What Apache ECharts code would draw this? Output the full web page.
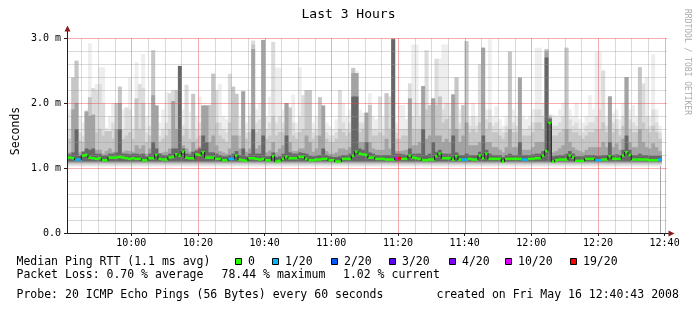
<!DOCTYPE html>
<html><head><meta charset="utf-8">
<script src="https://cdn.jsdelivr.net/npm/echarts@6/dist/echarts.min.js"></script>
<style>html,body{margin:0;padding:0;background:#fff}#c{width:697px;height:313px}</style>
</head><body><div id="c"></div>
<script>
// ---- data ----
const START_MIN = 580;            // first sample spans 09:40-09:41 (minutes since midnight)
const AXIS_MIN = 580.7167;        // 09:40:43
const AXIS_MAX = 760.7167;        // 12:40:43
const tickMinutes = [600, 620, 640, 660, 680, 700, 720, 740, 760];
const tickLabels = ['10:00', '10:20', '10:40', '11:00', '11:20', '11:40', '12:00', '12:20', '12:40'];

const median = [
1.15,1.16,1.15,1.13,1.13,1.19,1.20,1.16,1.15,1.14,
1.15,1.12,1.12,1.16,1.16,1.16,1.17,1.16,1.15,1.14,
1.15,1.14,1.14,1.12,1.12,1.15,1.15,1.20,1.14,1.13,
1.13,1.16,1.17,1.21,1.19,1.25,1.16,1.15,1.15,1.21,
1.20,1.24,1.16,1.16,1.16,1.14,1.14,1.12,1.12,1.14,
1.14,1.19,1.13,1.12,1.11,1.15,1.15,1.14,1.13,1.14,
1.12,1.12,1.18,1.10,1.11,1.14,1.17,1.15,1.15,1.15,
1.17,1.17,1.14,1.12,1.12,1.13,1.13,1.14,1.14,1.12,
1.12,1.10,1.10,1.14,1.14,1.14,1.19,1.25,1.22,1.21,
1.20,1.16,1.16,1.14,1.14,1.14,1.13,1.13,1.13,1.15,
1.15,1.14,1.14,1.19,1.16,1.15,1.14,1.12,1.12,1.13,
1.13,1.18,1.22,1.15,1.15,1.15,1.13,1.18,1.13,1.13,
1.13,1.14,1.13,1.13,1.19,1.15,1.22,1.14,1.14,1.14,
1.14,1.10,1.14,1.14,1.14,1.14,1.14,1.13,1.13,1.14,
1.14,1.15,1.15,1.19,1.26,1.69,1.10,1.12,1.13,1.13,
1.13,1.19,1.16,1.11,1.11,1.11,1.14,1.14,1.14,1.12,
1.12,1.13,1.13,1.18,1.14,1.14,1.14,1.19,1.24,1.20,
1.13,1.13,1.13,1.13,1.13,1.12,1.12,1.12,1.13];

// loss class per sample (index into lossLabels)
const loss = [
0,0,0,1,1,0,0,0,0,0, 0,0,0,0,0,0,0,0,0,0, 0,0,0,0,0,0,0,0,0,0,
0,0,0,0,0,0,0,0,0,0, 0,0,0,0,0,0,0,0,0,1, 1,0,0,0,0,0,0,0,0,0,
0,0,0,0,0,0,0,0,0,0, 0,0,0,0,0,0,0,0,0,0, 0,0,0,0,0,0,0,0,0,0,
0,0,0,0,0,0,0,0,0,5, 6,0,0,0,0,0,0,0,0,0, 0,0,0,0,0,0,0,0,0,1,
1,0,0,0,0,0,0,0,0,0, 0,0,0,0,0,0,0,1,1,0, 0,0,0,0,0,0,0,0,0,0,
0,0,0,0,0,0,0,0,0,1, 1,0,0,0,0,0,0,0,0,0, 0,0,0,0,0,0,0,0,1];

// smoke band tops (ms), lightest band to darkest band
const smoke1 = [
1.62,1.90,2.39,2.65,1.80,1.70,1.90,2.92,2.23,2.29,
2.55,2.55,1.62,1.80,2.00,2.00,2.25,1.90,1.93,2.39,
1.80,2.63,2.29,2.75,1.80,2.00,2.81,1.96,1.70,1.90,
2.17,2.15,2.20,2.20,2.57,1.90,2.28,1.87,2.14,1.80,
2.10,1.96,1.97,1.97,2.45,2.20,2.29,1.80,1.75,2.45,
2.25,2.14,1.80,2.18,1.70,2.00,2.96,1.90,2.00,2.97,
1.80,2.10,2.94,2.55,2.54,1.90,2.00,1.93,2.13,1.70,
2.55,2.12,2.20,2.20,1.70,1.80,2.09,1.96,1.70,1.65,
1.60,1.75,2.20,2.00,1.80,1.90,2.54,2.50,1.90,1.85,
1.85,2.15,1.80,1.75,2.10,1.80,2.15,2.10,2.99,1.70,
1.97,1.97,1.75,2.30,2.90,2.90,2.00,2.26,2.81,1.97,
2.07,2.68,2.68,2.90,2.90,2.00,2.13,2.40,1.90,1.97,
2.95,1.80,2.00,1.80,2.60,2.85,1.90,2.98,1.80,1.95,
1.75,1.65,1.80,2.79,1.90,1.80,2.39,1.80,1.75,1.80,
1.90,2.85,2.85,2.00,2.83,1.82,1.82,1.80,1.90,2.00,
2.85,1.90,1.80,2.00,1.75,1.70,1.80,2.12,1.90,2.79,
2.79,2.50,1.80,2.10,1.85,1.90,1.75,2.00,2.40,1.90,
1.97,1.80,2.55,2.30,2.40,1.80,2.75,1.90,1.65];
const smoke2 = [
1.50,1.60,2.39,2.65,1.55,1.50,1.87,2.09,2.23,2.20,
2.29,2.00,1.57,1.57,1.70,2.00,2.25,1.60,1.93,1.90,
1.60,2.07,2.29,2.23,1.55,1.65,2.81,1.96,1.50,1.60,
1.70,2.15,2.20,2.20,2.57,1.65,2.28,1.60,2.14,1.60,
1.70,1.96,1.97,1.97,2.45,2.20,1.70,1.60,1.55,2.45,
2.25,2.14,1.60,2.18,1.55,1.80,2.96,1.70,1.75,2.97,
1.60,1.70,2.94,1.70,1.80,1.70,2.00,1.93,1.70,1.55,
1.80,2.12,2.20,2.20,1.55,1.60,2.09,1.96,1.55,1.50,
1.50,1.55,2.20,1.70,1.60,1.70,2.54,2.46,1.70,1.70,
1.85,1.97,1.60,1.60,2.10,1.60,2.15,2.10,2.99,1.55,
1.60,1.60,1.60,2.30,1.80,2.00,1.80,2.26,2.81,1.97,
2.07,2.68,2.10,1.90,2.00,1.80,2.13,2.40,1.70,1.97,
2.95,1.65,1.80,1.65,2.60,2.85,1.75,1.90,1.65,1.70,
1.60,1.55,1.65,2.79,1.70,1.65,2.39,1.60,1.60,1.65,
1.70,1.90,1.90,1.80,2.83,1.82,1.65,1.65,1.70,1.80,
2.85,1.75,1.65,1.70,1.60,1.55,1.65,1.70,1.70,1.80,
1.90,2.50,1.65,2.10,1.70,1.75,1.60,1.80,2.40,1.75,
1.70,1.65,2.55,2.30,1.80,1.65,1.90,1.70,1.55];
const smoke3 = [
1.38,1.45,2.39,2.65,1.42,1.40,1.87,2.09,1.82,1.55,
1.60,1.50,1.57,1.57,1.45,2.00,2.25,1.45,1.50,1.55,
1.45,2.07,1.60,2.00,1.40,1.50,2.81,1.96,1.40,1.45,
1.50,1.60,2.03,2.20,2.57,1.50,1.60,1.45,2.14,1.45,
1.50,1.96,1.96,1.97,2.45,1.70,1.50,1.45,1.40,1.70,
2.25,2.14,1.50,2.18,1.45,1.55,2.90,1.55,1.60,2.97,
1.45,1.50,1.80,1.50,1.55,1.55,2.00,1.93,1.50,1.45,
1.55,1.60,2.20,2.20,1.45,1.50,2.09,1.96,1.45,1.40,
1.40,1.45,1.60,1.55,1.50,1.55,2.54,2.46,1.55,1.60,
1.85,1.97,1.50,1.50,1.55,1.50,2.15,1.60,2.99,1.45,
1.45,1.50,1.50,2.07,1.60,1.60,1.60,2.26,1.90,1.97,
2.07,1.97,2.10,1.70,1.75,1.60,2.13,2.39,1.60,1.97,
2.95,1.55,1.60,1.55,1.70,2.85,1.60,1.70,1.55,1.55,
1.50,1.45,1.55,2.79,1.55,1.55,2.39,1.50,1.50,1.50,
1.55,1.70,1.70,1.60,2.83,1.80,1.50,1.50,1.55,1.60,
2.85,1.60,1.55,1.55,1.50,1.45,1.50,1.55,1.55,1.60,
1.60,1.70,1.55,2.10,1.55,1.60,1.50,1.65,2.40,1.60,
1.55,1.55,2.55,1.70,1.60,1.55,1.65,1.55,1.45];
const smoke4 = [
1.22,1.24,1.90,2.00,1.24,1.26,1.87,1.80,1.82,1.28,
1.28,1.22,1.26,1.30,1.25,1.60,2.00,1.25,1.27,1.26,
1.25,1.35,1.30,1.35,1.22,1.30,2.12,1.96,1.23,1.24,
1.25,1.30,2.03,1.60,2.57,1.35,1.30,1.25,1.40,1.30,
1.33,1.96,1.96,1.40,1.50,1.35,1.26,1.24,1.22,1.30,
1.50,1.50,1.30,2.18,1.25,1.30,2.83,1.30,1.35,2.97,
1.24,1.27,1.40,1.24,1.30,1.35,2.00,1.40,1.26,1.26,
1.30,1.30,1.50,1.40,1.25,1.30,1.50,1.96,1.26,1.22,
1.22,1.24,1.30,1.30,1.28,1.32,2.46,2.46,1.40,1.40,
1.85,1.40,1.30,1.28,1.28,1.28,1.45,1.30,2.99,1.26,
1.26,1.27,1.28,2.07,1.35,1.35,1.40,2.26,1.45,1.50,
2.07,1.50,1.50,1.40,1.45,1.40,2.13,1.60,1.40,1.50,
1.70,1.35,1.35,1.35,1.40,2.85,1.40,1.40,1.32,1.32,
1.28,1.24,1.32,1.60,1.32,1.32,2.39,1.28,1.28,1.28,
1.32,1.40,1.40,1.40,2.80,1.78,1.24,1.26,1.30,1.35,
1.60,1.40,1.32,1.28,1.26,1.24,1.28,1.32,1.32,1.32,
1.32,1.40,1.32,2.10,1.32,1.38,1.28,1.45,2.40,1.40,
1.32,1.32,1.60,1.40,1.32,1.30,1.38,1.32,1.26];
const smoke5 = [
1.20,1.21,1.24,1.60,1.19,1.25,1.30,1.28,1.30,1.22,
1.22,1.19,1.20,1.22,1.22,1.24,1.60,1.22,1.22,1.21,
1.22,1.22,1.21,1.22,1.18,1.22,1.40,1.30,1.22,1.20,
1.20,1.22,1.30,1.30,2.57,1.30,1.22,1.21,1.25,1.27,
1.30,1.50,1.40,1.24,1.24,1.22,1.20,1.18,1.18,1.20,
1.22,1.26,1.20,1.30,1.18,1.22,1.60,1.22,1.22,1.50,
1.18,1.18,1.24,1.17,1.18,1.22,1.50,1.24,1.22,1.22,
1.24,1.23,1.22,1.19,1.18,1.19,1.20,1.30,1.20,1.18,
1.17,1.17,1.18,1.20,1.20,1.22,2.10,2.10,1.30,1.28,
1.40,1.24,1.22,1.20,1.20,1.20,1.20,1.20,2.98,1.22,
1.22,1.21,1.20,1.30,1.22,1.22,1.22,1.60,1.20,1.22,
1.40,1.25,1.28,1.22,1.22,1.22,1.50,1.24,1.20,1.20,
1.22,1.20,1.20,1.20,1.25,1.50,1.28,1.22,1.20,1.20,
1.20,1.17,1.20,1.22,1.20,1.20,1.40,1.20,1.20,1.20,
1.21,1.22,1.22,1.26,2.70,1.76,1.18,1.19,1.20,1.20,
1.22,1.26,1.22,1.18,1.18,1.18,1.20,1.20,1.20,1.19,
1.19,1.20,1.20,1.40,1.20,1.21,1.20,1.28,1.50,1.28,
1.20,1.20,1.22,1.20,1.20,1.19,1.19,1.19,1.19];
const smokeLow = [1.02, 1.04, 1.06, 1.08, 1.10];   // lower edge of each band

const lossLabels = ['0', '1/20', '2/20', '3/20', '4/20', '10/20', '19/20'];
const lossColors = ['#26ff00', '#00b8ff', '#0059ff', '#5e00ff', '#7e00ff', '#dd00ff', '#ff0000'];

// ---- styles ----
const MONO = 'DejaVu Sans Mono';
const smokeTops = [smoke1, smoke2, smoke3, smoke4, smoke5];
const smokeColors = ['#eeeeee', '#dcdcdc', '#c6c6c6', '#a3a3a3', '#676767'];

function smokeSeries(k) {
  return {
    type: 'custom', silent: true, clip: true, z: 2 + k, animation: false,
    data: smokeTops[k].map((v, i) => [START_MIN + i, smokeLow[k], v]),
    encode: {x: 0, y: [1, 2]},
    renderItem(params, api) {
      const t = api.value(0);
      const a = api.coord([t, api.value(2)]);
      const b = api.coord([t + 1, api.value(1)]);
      return {type: 'rect', shape: {x: a[0], y: a[1], width: b[0] - a[0] + 0.5, height: b[1] - a[1]},
              style: {fill: smokeColors[k]}};
    }
  };
}

const vGrid = [];
for (let m = 585; m <= 760; m += 5) vGrid.push([m, 0, m % 20 === 0 ? 1 : 0]);
const hGrid = [];
for (let k = 1; k <= 15; k++) hGrid.push([AXIS_MIN, k / 5, k % 5 === 0 ? 1 : 0]);

const MINOR = 'rgba(150,150,150,0.35)';
const MAJOR = 'rgba(235,60,60,0.42)';

const series = [0, 1, 2, 3, 4].map(smokeSeries);
series.push({
  type: 'custom', silent: true, clip: false, z: 8, animation: false,
  data: vGrid, encode: {x: 0, y: 1},
  renderItem(params, api) {
    const cs = params.coordSys;
    const x = Math.round(api.coord([api.value(0), 0])[0]) + 0.5;
    return {type: 'line', shape: {x1: x, y1: cs.y, x2: x, y2: cs.y + cs.height},
            style: {stroke: api.value(2) ? MAJOR : MINOR, lineWidth: 1}};
  }
});
series.push({
  type: 'custom', silent: true, clip: false, z: 8, animation: false,
  data: hGrid, encode: {x: 0, y: 1},
  renderItem(params, api) {
    const cs = params.coordSys;
    const y = Math.round(api.coord([AXIS_MIN, api.value(1)])[1]) + 0.5;
    return {type: 'line', shape: {x1: cs.x, y1: y, x2: cs.x + cs.width, y2: y},
            style: {stroke: api.value(2) ? MAJOR : MINOR, lineWidth: 1}};
  }
});
series.push({
  type: 'custom', silent: true, clip: true, z: 9, animation: false,
  data: [[759, 0, 1.03]], encode: {x: 0, y: [1, 2]},
  renderItem(params, api) {
    const a = api.coord([api.value(0), api.value(2)]);
    const b = api.coord([api.value(0), api.value(1)]);
    const x = Math.round(a[0]) - 0.5;
    return {type: 'line', shape: {x1: x, y1: a[1], x2: x, y2: b[1]}, style: {stroke: '#a8a8a8', lineWidth: 1}};
  }
});
series.push({
  type: 'custom', silent: true, clip: true, z: 10, animation: false,
  data: median.map((m, i) => [START_MIN + i, m, i > 0 ? median[i - 1] : m, loss[i]]),
  encode: {x: 0, y: 1},
  renderItem(params, api) {
    const t = api.value(0), m = api.value(1), pm = api.value(2), l = api.value(3);
    const a = api.coord([t, m]), b = api.coord([t + 1, m]), c = api.coord([t, pm]);
    const kids = [{type: 'rect', shape: {x: a[0], y: a[1] - 1.25, width: b[0] - a[0] + 0.3, height: 2.5},
                   style: {fill: lossColors[l]}}];
    if (Math.abs(a[1] - c[1]) > 0.8) {
      const y0 = Math.min(a[1], c[1]), y1 = Math.max(a[1], c[1]);
      kids.push({type: 'rect', shape: {x: a[0] - 0.5, y: y0 - 0.5, width: 1, height: y1 - y0 + 1},
                 style: {fill: '#202020'}});
    }
    return {type: 'group', children: kids};
  }
});

function hhmm(v) {
  const k = tickMinutes.indexOf(Math.round(v));
  return k >= 0 ? tickLabels[k] : '';
}

const legendBoxX = [235, 272, 331, 389, 449, 505, 570];
const graphics = [
  {type: 'text', left: 'center', top: 8, style: {text: 'Last 3 Hours', font: '13px ' + MONO, fill: '#000'}},
  {type: 'text', x: 16, y: 131, rotation: Math.PI / 2, style: {text: 'Seconds', font: '11.5px ' + MONO, fill: '#000', align: 'center', verticalAlign: 'middle'}},
  {type: 'text', x: 687, y: 62, rotation: -Math.PI / 2, style: {text: 'RRDTOOL / TOBI OETIKER', font: '8px ' + MONO, fill: '#aaaaaa', align: 'center', verticalAlign: 'middle'}},
  // axis arrows
  {type: 'line', shape: {x1: 67.5, y1: 31, x2: 67.5, y2: 38}, style: {stroke: '#1f1f1f', lineWidth: 1}},
  {type: 'polygon', shape: {points: [[64.5, 31.5], [70.5, 31.5], [67.5, 25.5]]}, style: {fill: '#8b1c1c'}},
  {type: 'line', shape: {x1: 667, y1: 233.5, x2: 669, y2: 233.5}, style: {stroke: '#1f1f1f', lineWidth: 1}},
  {type: 'polygon', shape: {points: [[668.5, 230.5], [668.5, 236.5], [674.5, 233.5]]}, style: {fill: '#8b1c1c'}},
  // legend lines
  {type: 'text', x: 16.5, y: 262, style: {text: 'Median Ping RTT (1.1 ms avg)', font: '11.5px ' + MONO, fill: '#000', verticalAlign: 'middle'}},
  {type: 'text', x: 16.5, y: 275.5, style: {text: 'Packet Loss: 0.70 % average', font: '11.5px ' + MONO, fill: '#000', verticalAlign: 'middle'}},
  {type: 'text', x: 221.5, y: 275.5, style: {text: '78.44 % maximum', font: '11.5px ' + MONO, fill: '#000', verticalAlign: 'middle'}},
  {type: 'text', x: 343, y: 275.5, style: {text: '1.02 % current', font: '11.5px ' + MONO, fill: '#000', verticalAlign: 'middle'}},
  {type: 'text', x: 16.5, y: 295.5, style: {text: 'Probe: 20 ICMP Echo Pings (56 Bytes) every 60 seconds', font: '11.5px ' + MONO, fill: '#000', verticalAlign: 'middle'}},
  {type: 'text', x: 436.5, y: 295.5, style: {text: 'created on Fri May 16 12:40:43 2008', font: '11.5px ' + MONO, fill: '#000', verticalAlign: 'middle'}}
];
lossLabels.forEach((lab, k) => {
  graphics.push({type: 'rect', shape: {x: legendBoxX[k] + 0.5, y: 258.5, width: 6, height: 6},
                 style: {fill: lossColors[k], stroke: '#000', lineWidth: 1}});
  graphics.push({type: 'text', x: legendBoxX[k] + 13, y: 262, style: {text: lab, font: '11.5px ' + MONO, fill: '#000', verticalAlign: 'middle'}});
});

const chart = echarts.init(document.getElementById('c'), null, {renderer: 'canvas'});
chart.setOption({
  animation: false,
  backgroundColor: '#ffffff',
  grid: {left: 67, width: 600, top: 38, height: 195, containLabel: false},
  xAxis: {
    type: 'value', min: AXIS_MIN, max: AXIS_MAX, z: 20,
    axisLine: {show: true, lineStyle: {color: '#1f1f1f', width: 1}},
    axisTick: {show: true, length: 3, inside: false, customValues: tickMinutes, lineStyle: {color: '#1f1f1f'}},
    axisLabel: {customValues: tickMinutes, formatter: hhmm, margin: 5, color: '#000', fontFamily: MONO, fontSize: 10},
    splitLine: {show: false}
  },
  yAxis: {
    type: 'value', min: 0, max: 3, interval: 1, z: 20,
    axisLine: {show: true, lineStyle: {color: '#1f1f1f', width: 1}},
    axisTick: {show: true, length: 3, lineStyle: {color: '#1f1f1f'}},
    axisLabel: {margin: 6, color: '#000', fontFamily: MONO, fontSize: 10,
                formatter: v => v === 0 ? '0.0' : v.toFixed(1) + ' m'},
    splitLine: {show: false}
  },
  series: series,
  graphic: graphics
});
</script>
</body></html>
